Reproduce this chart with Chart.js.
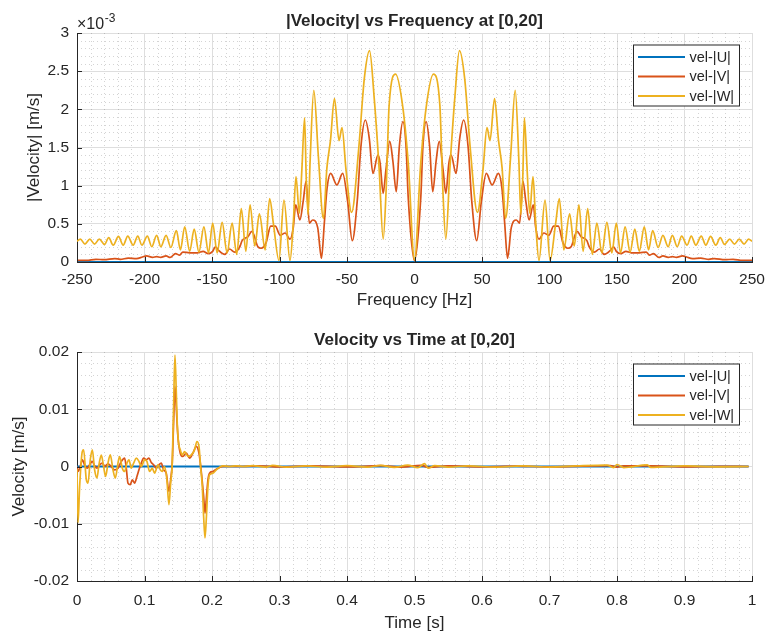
<!DOCTYPE html>
<html>
<head>
<meta charset="utf-8">
<script src="https://cdn.jsdelivr.net/npm/chart.js@4.4.1/dist/chart.umd.min.js"></script>
<style>
html,body{margin:0;padding:0;background:#fff;width:766px;height:634px;overflow:hidden;}
canvas{display:block;position:absolute;left:0;}
</style>
</head>
<body>
<canvas id="c1" width="766" height="317" style="top:0px"></canvas>
<canvas id="c2" width="766" height="317" style="top:317px"></canvas>
<script>
// ---------------- DATA ----------------
const seriesLabels = ['vel-|U|', 'vel-|V|', 'vel-|W|'];
const seriesColors = ['#0072BD', '#D95319', '#EDB120'];

// Spectrum (magnitudes in units of 1e-3 m/s)
const freqU = [-250, -125, 0, 125, 250];
const magU  = [0, 0, 0, 0, 0];

const freqV = [
  -250,-243,-236,-230,-222,-218,-212,-206,-201.5,-198.5,
  -194,-191,-188,-184,-181,-177,-174,-171.6,-166.5,-160.5,
  -156.6,-152.8,-149.5,-147.5,-145.5,-140.5,-137,-133.2,-129.4,-127.7,
  -123.5,-120.4,-116,-113.6,-110,-106.5,-103.1,-99.5,-95.8,-92.2,
  -89.8,-88,-84.9,-82.5,-80.3,-77.9,-75.4,-71.7,-68.9,-66.8,
  -64.8,-62.1,-57.5,-53.2,-49.5,-46.1,-42.4,-39.7,-36.4,-33.5,
  -30.8,-27.1,-25.5,-23.2,-21.2,-18.3,-16,-13.5,-11.2,-8.6,
  -6.2,-4.7,
  0,
  4.7,6.2,
  8.6,11.2,13.5,16,18.3,21.2,23.2,25.5,27.1,30.8,
  33.5,36.4,39.7,42.4,46.1,49.5,53.2,57.5,62.1,64.8,
  66.8,68.9,71.7,75.4,77.9,80.3,82.5,84.9,88,89.8,
  92.2,95.8,99.5,103.1,106.5,110,113.6,116,120.4,123.5,
  127.7,129.4,133.2,137,140.5,145.5,147.5,149.5,152.8,156.6,
  160.5,166.5,171.6,174,177,181,184,188,191,194,
  198.5,201.5,206,212,218,222,230,236,243,250
];
const magV = [
  0.02,0.02,0.035,0.03,0.045,0.035,0.05,0.045,0.065,0.08,
  0.06,0.07,0.06,0.08,0.06,0.11,0.09,0.13,0.12,0.12,
  0.14,0.11,0.14,0.2,0.16,0.1,0.17,0.13,0.2,0.28,
  0.33,0.4,0.2,0.18,0.25,0.47,0.47,0.35,0.38,0.3,
  0.45,0.75,0.55,0.79,1.06,0.51,0.55,0.45,0.05,0.51,
  0.96,1.16,1.01,1.16,0.79,0.28,0.8,1.51,1.86,1.62,
  1.16,1.4,1.3,0.9,1.2,1.58,1.32,0.92,1.52,1.84,
  1.5,0.86,
  0.02,
  0.86,1.5,
  1.84,1.52,0.92,1.32,1.58,1.2,0.9,1.3,1.4,1.16,
  1.62,1.86,1.51,0.8,0.28,0.79,1.16,1.01,1.16,0.96,
  0.51,0.05,0.45,0.55,0.51,1.06,0.79,0.55,0.75,0.45,
  0.3,0.38,0.35,0.47,0.47,0.25,0.18,0.2,0.4,0.33,
  0.28,0.2,0.13,0.17,0.1,0.16,0.2,0.14,0.11,0.14,
  0.12,0.12,0.13,0.09,0.11,0.06,0.08,0.06,0.07,0.06,
  0.08,0.065,0.045,0.05,0.035,0.045,0.03,0.035,0.02,0.02
];

const freqW = [
  -250,-247.5,-244.1,-240.5,-237,-233.5,-229.6,-226.5,-223.2,-219.3,
  -215.8,-212.4,-208.4,-205,-201.9,-197.9,-194.6,-191,-187.9,-184,
  -180.5,-176.4,-173.4,-170.2,-166.5,-163.2,-159.7,-156,-152.6,-149.5,
  -146.2,-142.5,-138.8,-135.1,-131.7,-128.3,-124.9,-121.8,-118.3,-114.9,
  -110.6,-107.3,-104.5,-100.4,-96.7,-92.2,-89.8,-87.8,-85.3,-83.4,
  -81.4,-80.2,-78.8,-77.3,-74.6,-71.2,-67.5,-64.9,-62.2,-59.3,
  -55.9,-53.7,-50.8,-46.6,-41.2,-37.2,-33.3,-29.9,-26.2,-23.2,
  -21,-18.8,-14,-8.6,-4.6,
  0,
  4.6,8.6,14,18.8,21,
  23.2,26.2,29.9,33.3,37.2,41.2,46.6,50.8,53.7,55.9,
  59.3,62.2,64.9,67.5,71.2,74.6,77.3,78.8,80.2,81.4,
  83.4,85.3,87.8,89.8,92.2,96.7,100.4,104.5,107.3,110.6,
  114.9,118.3,121.8,124.9,128.3,131.7,135.1,138.8,142.5,146.2,
  149.5,152.6,156,159.7,163.2,166.5,170.2,173.4,176.4,180.5,
  184,187.9,191,194.6,197.9,201.9,205,208.4,212.4,215.8,
  219.3,223.2,226.5,229.6,233.5,237,240.5,244.1,247.5,250
];
const magW = [
  0.27,0.3,0.235,0.3,0.235,0.3,0.23,0.32,0.22,0.335,
  0.22,0.34,0.22,0.34,0.22,0.34,0.2,0.35,0.2,0.35,
  0.19,0.41,0.16,0.46,0.14,0.43,0.13,0.46,0.12,0.51,
  0.12,0.52,0.12,0.51,0.10,0.70,0.14,0.75,0.21,0.63,
  0.16,0.83,0.5,0.02,0.81,0.02,0.5,1.12,0.64,1.22,
  1.89,1.1,0.62,1.33,2.25,1.38,0.57,1.23,1.6,2.14,
  1.59,1.76,1.22,0.65,1.51,2.40,2.77,2.16,1.22,0.30,
  0.95,2.05,2.46,2.02,1.29,
  0.03,
  1.29,2.02,2.46,2.05,0.95,
  0.30,1.22,2.16,2.77,2.40,1.51,0.65,1.22,1.76,1.59,
  2.14,1.6,1.23,0.57,1.38,2.25,1.33,0.62,1.1,1.89,
  1.22,0.64,1.12,0.5,0.02,0.81,0.02,0.5,0.83,0.16,
  0.63,0.21,0.75,0.14,0.70,0.10,0.51,0.12,0.52,0.12,
  0.51,0.12,0.46,0.13,0.43,0.14,0.46,0.16,0.41,0.19,
  0.35,0.2,0.35,0.2,0.34,0.22,0.34,0.22,0.34,0.22,
  0.335,0.22,0.32,0.23,0.3,0.235,0.3,0.235,0.3,0.27
];

// Time signals (velocities in units of 1e-3 m/s)
const timeU = [0, 0.25, 0.5, 0.75, 0.995];
const velU  = [0, 0, 0, 0, 0];

const timeV = [
  0,0.0014,0.0049,0.0078,0.0123,0.0153,0.0187,0.0227,0.0261,0.0296,
  0.0335,0.0375,0.0409,0.0459,0.0508,0.0557,0.0607,0.0656,0.0706,0.073,
  0.0755,0.0789,0.0819,0.0853,0.0888,0.0918,0.0952,0.0987,0.1026,0.1066,
  0.11,0.1135,0.1174,0.1214,0.1248,0.1283,0.1322,0.1362,0.1387,0.1411,
  0.1431,0.1451,0.147,0.1495,0.153,0.1569,0.1619,0.1668,0.1717,0.1767,
  0.1807,0.1841,0.1876,0.1896,0.1915,0.194,0.1964,0.2014,0.2063,0.2162,
  0.2458,
  0.27,0.3,0.35,0.4,0.45,0.48,0.51,0.52,0.55,0.6,
  0.65,0.7,0.75,0.79,0.8,0.81,0.85,0.9,0.95,0.995
];
const velV = [
  0,-0.87,0,1.17,0,-0.29,0.29,0.88,0.12,-0.29,
  0.29,0.59,0,0.47,0,-0.58,-0.29,0.88,1.46,-0.29,
  -2.9,-3.19,-2.32,-2.9,-1.74,-0.58,0.59,1.46,1.17,1.46,
  0.7,0.29,-0.29,0.29,0.59,-0.58,-1.16,-4.35,-2.32,0.59,
  7.57,14.0,10.47,5.24,2.33,1.75,2.33,1.46,2.33,3.5,
  2.33,-0.87,-5.23,-8.13,-5.81,-2.32,-1.16,-0.87,-0.47,0,
  0,
  0.1,-0.08,0.1,-0.08,0.15,-0.1,0.2,-0.15,0.1,-0.05,
  0.05,-0.05,0.05,0.15,-0.1,0.1,0.12,-0.05,0.03,0
];

const timeW = [
  0,0.0015,0.0039,0.0078,0.0098,0.0138,0.0163,0.0197,0.0227,0.0261,
  0.0296,0.0325,0.036,0.0394,0.0424,0.0459,0.0493,0.0533,0.0567,0.0607,
  0.0631,0.0671,0.0706,0.074,0.077,0.0804,0.0839,0.0878,0.0918,0.0952,
  0.1002,0.1036,0.1076,0.1115,0.115,0.1199,0.1234,0.1263,0.1298,0.1332,
  0.1362,0.1387,0.1411,0.1431,0.1451,0.147,0.1485,0.1505,0.153,0.156,
  0.1594,0.1644,0.1693,0.1742,0.1777,0.1807,0.1831,0.1856,0.1876,0.1896,
  0.1915,0.194,0.1964,0.2014,0.2063,0.2112,0.2162,0.2261,0.2359,0.2458,
  0.26,0.28,0.29,0.31,0.34,0.37,0.4,0.43,0.45,0.47,
  0.49,0.505,0.515,0.52,0.53,0.55,0.58,0.62,0.66,0.7,
  0.74,0.785,0.795,0.8,0.81,0.845,0.85,0.9,0.95,0.995
];
const velW = [
  -0.5,-9.8,-3.5,2.6,2.9,-2.3,-2.9,1.2,2.9,-0.6,
  -2.0,0.3,2.0,0,-1.74,0.59,2.03,-0.58,-2.03,0.59,
  1.75,-0.29,-0.87,0.59,1.17,-0.29,0.59,1.46,0.88,0,
  1.17,0.88,-0.87,-0.29,-1.16,0.29,-0.58,-0.87,0,-2.32,
  -6.68,-2.9,0.59,10.47,19.48,13.38,7.57,4.08,2.91,2.03,
  2.62,1.75,2.03,2.91,4.37,3.5,0,-3.48,-8.71,-12.49,
  -9.3,-3.48,-1.45,-1.16,-0.58,-0.12,0.12,0,0.12,0,
  0.15,-0.1,0.2,-0.1,0.1,-0.1,0.15,-0.1,0.2,-0.15,
  0.25,-0.2,0.5,-0.3,0.15,-0.1,0.1,-0.1,0.1,-0.1,
  0.1,0.25,-0.2,0.35,-0.2,0.3,-0.15,0.1,-0.05,0
];

const freqTicks = [-250,-200,-150,-100,-50,0,50,100,150,200,250];
const timeTicks = [0,0.1,0.2,0.3,0.4,0.5,0.6,0.7,0.8,0.9,1];

// ---------------- HELPERS ----------------
const FONT = "'Liberation Sans', Arial, Helvetica, sans-serif";
const TXT = '#262626';

function toPts(xs, ys, k) { return xs.map((x, i) => ({x: x, y: ys[i] * k})); }

function makeDatasets(xsList, ysList, k) {
  return xsList.map((xs, i) => ({
    label: seriesLabels[i],
    data: toPts(xs, ysList[i], k),
    borderColor: seriesColors[i],
    backgroundColor: seriesColors[i],
    borderWidth: i === 0 ? 2.2 : 1.7,
    pointRadius: 0,
    fill: false,
    cubicInterpolationMode: 'monotone',
    order: 2 - i
  }));
}

function decorPlugin(cfg) {
  return {
    id: 'decor',
    beforeDatasetsDraw(chart) {
      const ctx = chart.ctx, a = chart.chartArea, x = chart.scales.x, y = chart.scales.y;
      ctx.save();
      ctx.strokeStyle = 'rgba(38,38,38,0.20)';
      ctx.lineWidth = 1;
      ctx.setLineDash([1, 3]);
      ctx.beginPath();
      const nx = Math.round((cfg.xMax - cfg.xMin) / cfg.xMinor);
      for (let i = 0; i <= nx; i++) {
        const v = cfg.xMin + i * cfg.xMinor;
        const r = v / cfg.xMajor;
        if (Math.abs(r - Math.round(r)) < 1e-6) continue;
        const px = Math.round(x.getPixelForValue(v)) + 0.5;
        ctx.moveTo(px, a.top); ctx.lineTo(px, a.bottom);
      }
      const ny = Math.round((cfg.yMax - cfg.yMin) / cfg.yMinor);
      for (let i = 0; i <= ny; i++) {
        const v = cfg.yMin + i * cfg.yMinor;
        const r = v / cfg.yMajor;
        if (Math.abs(r - Math.round(r)) < 1e-6) continue;
        const py = Math.round(y.getPixelForValue(v)) + 0.5;
        ctx.moveTo(a.left, py); ctx.lineTo(a.right, py);
      }
      ctx.stroke();
      ctx.restore();
    },
    afterDraw(chart) {
      const ctx = chart.ctx, a = chart.chartArea, x = chart.scales.x, y = chart.scales.y;
      ctx.save();
      // inward tick marks
      ctx.strokeStyle = TXT; ctx.lineWidth = 1; ctx.beginPath();
      x.ticks.forEach(t => {
        const px = Math.round(x.getPixelForValue(t.value)) + 0.5;
        ctx.moveTo(px, a.bottom); ctx.lineTo(px, a.bottom - 5);
      });
      y.ticks.forEach(t => {
        const py = Math.round(y.getPixelForValue(t.value)) + 0.5;
        ctx.moveTo(a.left, py); ctx.lineTo(a.left + 5, py);
      });
      ctx.stroke();
      ctx.fillStyle = TXT;
      // title
      ctx.font = 'bold 17px ' + FONT;
      ctx.textAlign = 'center'; ctx.textBaseline = 'middle';
      ctx.fillText(cfg.title, (a.left + a.right) / 2, cfg.titleY);
      // axis titles
      ctx.font = '17px ' + FONT;
      ctx.fillText(cfg.xTitle, (a.left + a.right) / 2, cfg.xTitleY);
      ctx.save();
      ctx.translate(cfg.yTitleX, (a.top + a.bottom) / 2);
      ctx.rotate(-Math.PI / 2);
      ctx.fillText(cfg.yTitle, 0, 0);
      ctx.restore();
      // exponent
      if (cfg.exponent) {
        ctx.textAlign = 'left';
        ctx.font = '16px ' + FONT;
        const base = '\u00D710';
        ctx.fillText(base, a.left, a.top - 8);
        const w = ctx.measureText(base).width;
        ctx.font = '12px ' + FONT;
        ctx.fillText(cfg.exponent, a.left + w + 0.5, a.top - 14);
      }
      // legend
      const lx = 633.5, lw = 106, ly = a.top + 12, lh = 61;
      ctx.fillStyle = '#ffffff';
      ctx.fillRect(lx, ly, lw, lh);
      ctx.strokeStyle = TXT; ctx.lineWidth = 1;
      ctx.strokeRect(lx, ly, lw, lh);
      const rows = [24, 43.5, 63];
      ctx.font = '14.5px ' + FONT;
      ctx.textAlign = 'left'; ctx.textBaseline = 'middle';
      chart.data.datasets.forEach((ds, i) => {
        const ry = a.top + rows[i];
        ctx.strokeStyle = ds.borderColor; ctx.lineWidth = 2;
        ctx.beginPath(); ctx.moveTo(638, ry); ctx.lineTo(685, ry); ctx.stroke();
        ctx.fillStyle = TXT;
        ctx.fillText(ds.label, 689.5, ry + 0.5);
      });
      ctx.restore();
    }
  };
}

function baseOptions(o) {
  return {
    responsive: false,
    animation: false,
    devicePixelRatio: 1,
    events: [],
    layout: {padding: {left: 0, right: 14, top: o.top, bottom: 0}},
    plugins: {legend: {display: false}, tooltip: {enabled: false}, title: {display: false}},
    scales: {
      x: {
        type: 'linear', min: o.xMin, max: o.xMax,
        afterBuildTicks(s) { s.ticks = o.xTicks.map(v => ({value: v})); },
        ticks: {padding: o.xPad, color: TXT, font: {family: FONT, size: 15.5}, maxRotation: 0, autoSkip: false, callback: o.xFmt},
        grid: {color: '#dedede', lineWidth: 1, drawTicks: false},
        border: {display: true, color: TXT, width: 1},
        afterFit(s) { s.height = o.xHeight; s.paddingLeft = 0; s.paddingRight = 0; }
      },
      y: {
        type: 'linear', min: o.yMin, max: o.yMax,
        ticks: {stepSize: o.yStep, padding: 8, color: TXT, font: {family: FONT, size: 15.5}, callback: o.yFmt},
        grid: {color: '#dedede', lineWidth: 1, drawTicks: false},
        border: {display: true, color: TXT, width: 1},
        afterFit(s) { s.width = 77; s.paddingTop = 0; s.paddingBottom = 0; }
      }
    }
  };
}

// ---------------- TOP CHART ----------------
new Chart(document.getElementById('c1'), {
  type: 'line',
  data: {datasets: makeDatasets([freqU, freqV, freqW], [magU, magV, magW], 1e-3)},
  options: baseOptions({
    top: 33, xHeight: 55, xPad: 8,
    xMin: -250, xMax: 250, xTicks: freqTicks, xFmt: v => String(v),
    yMin: 0, yMax: 0.003, yStep: 0.0005,
    yFmt: v => String(Math.round(v * 1e4) / 10)
  }),
  plugins: [decorPlugin({
    title: '|Velocity| vs Frequency at [0,20]', titleY: 21.5,
    xTitle: 'Frequency [Hz]', xTitleY: 300,
    yTitle: '|Velocity| [m/s]', yTitleX: 34.5,
    exponent: '-3',
    xMin: -250, xMax: 250, xMinor: 10, xMajor: 50,
    yMin: 0, yMax: 0.003, yMinor: 0.0001, yMajor: 0.0005
  })]
});

// ---------------- BOTTOM CHART ----------------
new Chart(document.getElementById('c2'), {
  type: 'line',
  data: {datasets: makeDatasets([timeU, timeV, timeW], [velU, velV, velW], 1e-3)},
  options: baseOptions({
    top: 35, xHeight: 53, xPad: 10,
    xMin: 0, xMax: 1, xTicks: timeTicks, xFmt: v => String(Math.round(v * 10) / 10),
    yMin: -0.02, yMax: 0.02, yStep: 0.01,
    yFmt: v => Math.abs(v) < 1e-9 ? '0' : (Math.round(v * 100) / 100).toFixed(2)
  }),
  plugins: [decorPlugin({
    title: 'Velocity vs Time at [0,20]', titleY: 23,
    xTitle: 'Time [s]', xTitleY: 306,
    yTitle: 'Velocity [m/s]', yTitleX: 19.5,
    exponent: null,
    xMin: 0, xMax: 1, xMinor: 0.02, xMajor: 0.1,
    yMin: -0.02, yMax: 0.02, yMinor: 0.002, yMajor: 0.01
  })]
});
</script>
</body>
</html>
